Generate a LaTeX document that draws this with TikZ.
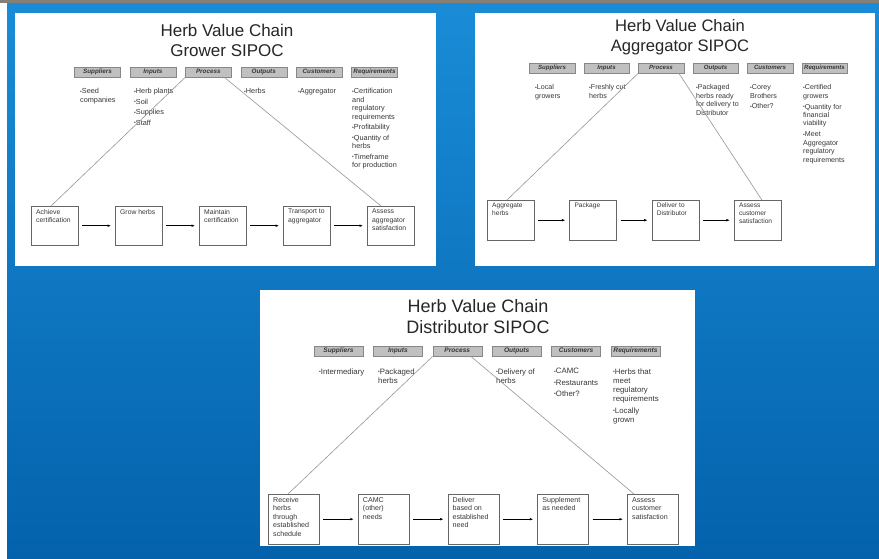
\documentclass[tikz,border=0pt]{standalone}
\usepackage{fontspec}
\setmainfont{Liberation Sans}
\usetikzlibrary{arrows.meta}

\definecolor{bgtop}{RGB}{26,140,215}
\definecolor{bgbot}{RGB}{4,98,172}
\definecolor{photo}{RGB}{135,128,118}
\definecolor{hdrfill}{RGB}{192,192,192}
\definecolor{hdrline}{RGB}{135,135,135}
\definecolor{txt}{RGB}{55,55,55}
\definecolor{diag}{RGB}{150,150,150}

\newcommand\fs[2]{\fontsize{#1}{#2}\selectfont}
\newcommand\bul{\raisebox{0.6pt}{\fs{5}{5}\textbullet}}
\newcommand\steptext[1]{\parbox[t][\ph][t]{\pw}{\raggedright #1}}

\tikzset{
	ttl/.style={anchor=north, align=center, inner sep=0pt, text=black!85, font=\fs{\tsz}{\tsk}},
	hdr/.style={draw=hdrline, fill=hdrfill, text=txt, font=\fs{\hs}{\hs}\bfseries\itshape, minimum width=\hw pt, minimum height=10.5pt, inner sep=0pt, text height=4.6pt, text depth=1.4pt},
	item/.style={anchor=north west, align=left, inner sep=0pt, text=txt, font=\fs{\ts}{\tl}},
	stepbox/.style={draw=black!60, fill=white, anchor=north west, inner xsep=5pt, inner ysep=3pt, text=txt, font=\fs{\bs}{\bl}},
	flow/.style={-{Latex[length=3.5pt,width=2.6pt]}, line width=0.6pt, shorten <=4pt, shorten >=4pt},
	link/.style={draw=diag, line width=0.6pt}
}

\begin{document}
\begin{tikzpicture}[x=1pt,y=-1pt]
	\useasboundingbox (0,0) rectangle (879,558);
	% backdrop
	\fill[white] (0,0) rectangle (879,558);
	\fill[photo] (0,0) rectangle (879,3);
	\shade[top color=bgtop, bottom color=bgbot] (7,3) rectangle (879,558);
	
	% grower
	\begin{scope}
		\def\tsz{17}\def\tsk{20}
		\def\hs{6.3}\def\hw{46}
		\def\ts{7.3}\def\tl{8.5}
		\def\bs{6.8}\def\bl{8.3}\def\pw{37pt}\def\ph{33pt}
		\fill[white] (15,13) rectangle (436,266);
		\node[ttl] (gt) at (227,23.5) {Herb Value Chain\\Grower SIPOC};
		\foreach \h [count=\i] in {Suppliers,Inputs,Process,Outputs,Customers,Requirements}
			\node[hdr] (gh\i) at (42.1+55.4*\i,72) {\h};
		\node[item] (gi1) at (80,88.5) {\bul Seed\\companies};
		\node[item] (gi2) at (134,88.5) {\bul Herb plants\\[2pt]\bul Soil\\[2pt]\bul Supplies\\[2pt]\bul Staff};
		\node[item] (gi4) at (244,88.5) {\bul Herbs};
		\node[item] (gi5) at (298,88.5) {\bul Aggregator};
		\node[item] (gi6) at (352,88.5) {\bul Certification\\and\\regulatory\\requirements\\[2pt]\bul Profitability\\[2pt]\bul Quantity of\\herbs\\[2pt]\bul Timeframe\\for production};
		\foreach \t [count=\i] in {{Achieve\\certification},{Grow herbs},{Maintain\\certification},{Transport to\\aggregator},{Assess\\aggregator\\satisfaction}}
			\node[stepbox] (gs\i) at (-53+84*\i,206) {\steptext{\t}};
		\foreach \i [evaluate=\i as \j using int(\i+1)] in {1,...,4}
			\draw[flow] (gs\i) -- (gs\j);
		\draw[link] (gh3.south west) -- ([xshift=20pt]gs1.north west);
		\draw[link] ([xshift=-7pt]gh3.south east) -- ([xshift=14pt]gs5.north west);
	\end{scope}
	
	% aggregator
	\begin{scope}
		\def\tsz{16.6}\def\tsk{20}
		\def\hs{6.1}\def\hw{45.5}
		\def\ts{7.1}\def\tl{8.4}
		\def\bs{6.6}\def\bl{8}\def\pw{37pt}\def\ph{34pt}
		\fill[white] (475,13) rectangle (875,266);
		\node[ttl] (at) at (680,19.5) {Herb Value Chain\\Aggregator SIPOC};
		\foreach \h [count=\i] in {Suppliers,Inputs,Process,Outputs,Customers,Requirements}
			\node[hdr] (ah\i) at (497.5+54.5*\i,68) {\h};
		\node[item] (ai1) at (535,84.5) {\bul Local\\growers};
		\node[item] (ai2) at (589,84.5) {\bul Freshly cut\\herbs};
		\node[item] (ai4) at (696,84.5) {\bul Packaged\\herbs ready\\for delivery to\\Distributor};
		\node[item] (ai5) at (750,84.5) {\bul Corey\\Brothers\\[2.5pt]\bul Other?};
		\node[item] (ai6) at (803,84.5) {\bul Certified\\growers\\[2.5pt]\bul Quantity for\\financial\\viability\\[2.5pt]\bul Meet\\Aggregator\\regulatory\\requirements};
		\foreach \t [count=\i] in {{Aggregate\\herbs},{Package},{Deliver to\\Distributor},{Assess\\customer\\satisfaction}}
			\node[stepbox] (as\i) at (404.7+82.3*\i,200) {\steptext{\t}};
		\foreach \i [evaluate=\i as \j using int(\i+1)] in {1,...,3}
			\draw[flow] (as\i) -- (as\j);
		\draw[link] (ah3.south west) -- ([xshift=20pt]as1.north west);
		\draw[link] ([xshift=-5pt]ah3.south east) -- ([xshift=28pt]as4.north west);
	\end{scope}
	
	% distributor
	\begin{scope}
		\def\tsz{18}\def\tsk{21}
		\def\hs{6.6}\def\hw{49}
		\def\ts{7.8}\def\tl{9.3}
		\def\bs{7.1}\def\bl{8.5}\def\pw{41pt}\def\ph{44pt}
		\fill[white] (260,290) rectangle (695,546);
		\node[ttl] (dt) at (478,299) {Herb Value Chain\\Distributor SIPOC};
		\foreach \h [count=\i] in {Suppliers,Inputs,Process,Outputs,Customers,Requirements}
			\node[hdr] (dh\i) at (279.1+59.4*\i,351) {\h};
		\node[item] (di1) at (319,368.2) {\bul Intermediary};
		\node[item] (di2) at (378,368.2) {\bul Packaged\\herbs};
		\node[item] (di4) at (496,368.2) {\bul Delivery of\\herbs};
		\node[item] (di5) at (554,368.2) {\bul CAMC\\[2pt]\bul Restaurants\\[2pt]\bul Other?};
		\node[item] (di6) at (613,368.2) {\bul Herbs that\\meet\\regulatory\\requirements\\[2pt]\bul Locally\\grown};
		\foreach \t [count=\i] in {{Receive\\herbs\\through\\established\\schedule},{CAMC\\(other)\\needs},{Deliver\\based on\\established\\need},{Supplement\\as needed},{Assess\\customer\\satisfaction}}
			\node[stepbox] (ds\i) at (178.25+89.75*\i,494) {\steptext{\t}};
		\foreach \i [evaluate=\i as \j using int(\i+1)] in {1,...,4}
			\draw[flow] (ds\i) -- (ds\j);
		\draw[link] (dh3.south west) -- ([xshift=20pt]ds1.north west);
		\draw[link] ([xshift=-11pt]dh3.south east) -- ([xshift=7pt]ds5.north west);
	\end{scope}
\end{tikzpicture}
\end{document}
